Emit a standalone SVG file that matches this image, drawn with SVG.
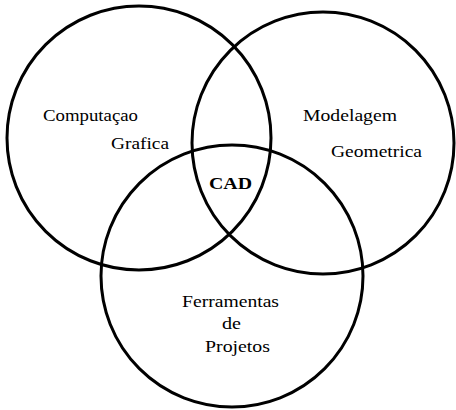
<svg xmlns="http://www.w3.org/2000/svg" width="456" height="410" viewBox="0 0 456 410">
<style>
.c{fill:none;stroke:#000;stroke-width:3}
text{font-family:'Liberation Serif','Times New Roman',serif;font-size:16px;fill:#000}
.b{font-weight:bold}
</style>
<rect width="456" height="410" fill="#fff"/>
<g id="computacao-grafica">
<circle class="c" cx="139" cy="138" r="132"/>
<text x="43" y="121" textLength="95" lengthAdjust="spacingAndGlyphs">Computaçao</text>
<text x="111" y="149" textLength="58" lengthAdjust="spacingAndGlyphs">Grafica</text>
</g>
<g id="modelagem-geometrica">
<circle class="c" cx="323" cy="143" r="131"/>
<text x="303" y="121" textLength="94" lengthAdjust="spacingAndGlyphs">Modelagem</text>
<text x="331" y="157" textLength="91" lengthAdjust="spacingAndGlyphs">Geometrica</text>
</g>
<g id="ferramentas-projetos">
<circle class="c" cx="232" cy="276" r="131"/>
<text x="182" y="307" textLength="97" lengthAdjust="spacingAndGlyphs">Ferramentas</text>
<text x="222" y="329" textLength="19" lengthAdjust="spacingAndGlyphs">de</text>
<text x="205" y="352" textLength="65" lengthAdjust="spacingAndGlyphs">Projetos</text>
</g>
<g id="cad">
<text class="b" x="209" y="189" textLength="43" lengthAdjust="spacingAndGlyphs">CAD</text>
</g>
<g id="connectors"></g>
</svg>
